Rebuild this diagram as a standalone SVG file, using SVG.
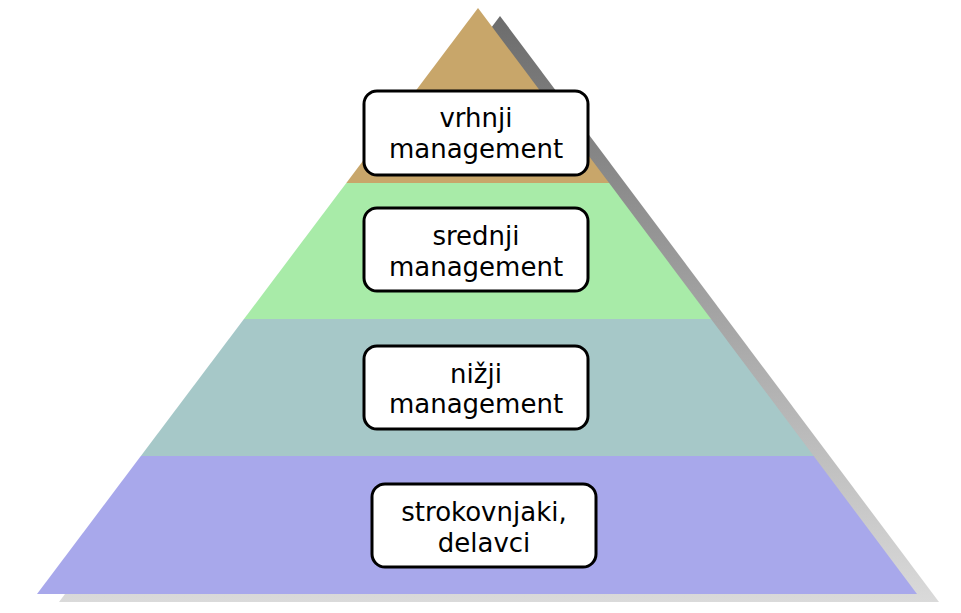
<svg xmlns="http://www.w3.org/2000/svg" width="961" height="613" viewBox="0 0 961 613">
<defs>
<linearGradient id="sh" x1="0" y1="16" x2="0" y2="602" gradientUnits="userSpaceOnUse">
<stop offset="0" stop-color="#6c6c6c"/>
<stop offset="1" stop-color="#dadada"/>
</linearGradient>
<clipPath id="tri"><polygon points="478,8 917,594 37,594"/></clipPath>
<style>
.box{fill:#fff;stroke:#000;stroke-width:3}
.t{font-family:"DejaVu Sans",Verdana,sans-serif;font-size:26px;fill:#000;text-anchor:middle}
</style>
</defs>
<rect width="961" height="613" fill="#fff"/>
<g id="pyramid">
<polygon id="shadow" points="500,16 939,602 59,602" fill="url(#sh)"/>
<g clip-path="url(#tri)">
<rect x="0" y="0" width="961" height="183" fill="#c8a66a"/>
<rect x="0" y="183" width="961" height="136" fill="#a8eba8"/>
<rect x="0" y="319" width="961" height="137" fill="#a6c8c8"/>
<rect x="0" y="456" width="961" height="140" fill="#a8a8eb"/>
</g>
</g>
<g id="connectors"/>
<g id="node-top">
<rect class="box" x="364" y="91" width="224" height="84" rx="13"/>
<text class="t" x="476" y="127">vrhnji</text>
<text class="t" x="476" y="158">management</text>
</g>
<g id="node-middle">
<rect class="box" x="364" y="208" width="224" height="83" rx="13"/>
<text class="t" x="476" y="245">srednji</text>
<text class="t" x="476" y="276">management</text>
</g>
<g id="node-lower">
<rect class="box" x="364" y="346" width="224" height="83" rx="13"/>
<text class="t" x="476" y="383">nižji</text>
<text class="t" x="476" y="413">management</text>
</g>
<g id="node-workers">
<rect class="box" x="372" y="484" width="224" height="83" rx="13"/>
<text class="t" x="484" y="521">strokovnjaki,</text>
<text class="t" x="484" y="552">delavci</text>
</g>
</svg>
